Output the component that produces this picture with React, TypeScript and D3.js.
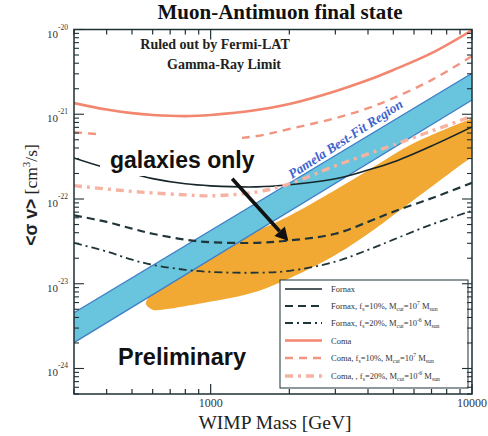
import React from 'react';
import * as d3 from 'd3';

// ---------- data ----------
const masses = [300, 400, 500, 600, 800, 1000, 1500, 2000, 3000, 4000, 5000, 7000, 10000];
const fornax = [3.05e-22, 2.32e-22, 2.0e-22, 1.74e-22, 1.51e-22, 1.43e-22, 1.39e-22, 1.47e-22, 1.73e-22, 2.2e-22, 2.73e-22, 4.23e-22, 7.1e-22];
const fornax10 = [6.41e-23, 5.37e-23, 4.47e-23, 3.89e-23, 3.31e-23, 3.09e-23, 3.04e-23, 3.24e-23, 3.89e-23, 5.37e-23, 7.08e-23, 1.02e-22, 1.55e-22];
const fornax20 = [3.04e-23, 2.4e-23, 1.92e-23, 1.67e-23, 1.46e-23, 1.38e-23, 1.35e-23, 1.42e-23, 1.82e-23, 2.51e-23, 3.31e-23, 5.0e-23, 7.24e-23];
const coma = [1.355e-21, 1.135e-21, 1.03e-21, 9.8e-22, 9.5e-22, 9.8e-22, 1.12e-21, 1.32e-21, 1.87e-21, 2.53e-21, 3.33e-21, 5.26e-21, 9.8e-21];
const coma10 = [6.15e-22, 5.7e-22, 5.4e-22, 5.2e-22, 4.97e-22, 4.97e-22, 5.53e-22, 6.7e-22, 9.0e-22, 1.18e-21, 1.55e-21, 2.53e-21, 4.85e-21];
const coma20 = [1.44e-22, 1.31e-22, 1.23e-22, 1.18e-22, 1.12e-22, 1.09e-22, 1.21e-22, 1.51e-22, 2.46e-22, 3.4e-22, 4.34e-22, 6.34e-22, 9.5e-22];

const pamelaMass = [300, 10000];
const pamelaUpper = [4.56e-24, 3.05e-21];
const pamelaLower = [2.02e-24, 1.47e-21];

const galaxyTipMass = 565;
const galaxyTipVal = 5.8e-24;
const galaxyUpperMass = [600, 650, 900, 1400, 1900, 3000, 4200, 6000, 10000, 12000];
const galaxyUpperVal = [7.83e-24, 9.2e-24, 1.67e-23, 3.77e-23, 5.83e-23, 1.28e-22, 2.39e-22, 4.58e-22, 9.0e-22, 1.15e-21];
const galaxyLowerMass = [600, 650, 900, 1400, 1900, 3000, 4200, 6000, 10000, 12000];
const galaxyLowerVal = [4.94e-24, 4.94e-24, 5.8e-24, 7.6e-24, 1.08e-23, 2.19e-23, 4.32e-23, 9.77e-23, 3.13e-22, 4.5e-22];

const xTickLabels = ['1000', '10000'];
const xTickValues = [1000, 10000];
const yTickValues = [1e-24, 1e-23, 1e-22, 1e-21, 1e-20];
const yTickExps = ['-24', '-23', '-22', '-21', '-20'];

const legendLabels = [
  'Fornax',
  'Fornax, f_{s}=10%, M_{cut}=10^{7} M_{sun}',
  'Fornax, f_{s}=20%, M_{cut}=10^{-6} M_{sun}',
  'Coma',
  'Coma, f_{s}=10%, M_{cut}=10^{7} M_{sun}',
  'Coma, , f_{s}=20%, M_{cut}=10^{-6} M_{sun}',
];

const arrowFrom = [1209, 1.73e-22];
const arrowTo = [1983, 3.2e-23];

// ---------- layout ----------
const W = 488, H = 436;
const L = 74, R = 472, T = 29.5, B = 394;

const seriesStyles = [
  { data: fornax, stroke: '#15252a', width: 1.6, dash: '' },
  { data: fornax10, stroke: '#203539', width: 2.2, dash: '8,5' },
  { data: fornax20, stroke: '#203539', width: 1.8, dash: '8,4,2,4' },
  { data: coma, stroke: '#f3866f', width: 2.6, dash: '' },
  { data: coma10, stroke: '#f29580', width: 2.4, dash: '8,6' },
  { data: coma20, stroke: '#f6b2a2', width: 3.4, dash: '8,5,3,5' },
];

function RichText({ s, x, y, size }: { s: string; x: number; y: number; size: number }) {
  const parts = s.split(/(_\{[^}]*\}|\^\{[^}]*\})/).filter((p) => p.length);
  let off = 0;
  const small = size * 0.68;
  const spans = parts.map((p, i) => {
    let fs = size;
    let txt = p;
    let target = 0;
    if (p.startsWith('_{')) {
      target = 2;
      fs = small;
      txt = p.slice(2, -1);
    } else if (p.startsWith('^{')) {
      target = -4;
      fs = small;
      txt = p.slice(2, -1);
    }
    const dy = target - off;
    off = target;
    return (
      <tspan key={i} dy={dy} fontSize={fs}>
        {txt}
      </tspan>
    );
  });
  return (
    <text x={x} y={y} fontFamily="Liberation Serif, Times New Roman, serif" fontSize={size} fill="#333">
      {spans}
    </text>
  );
}

export default function App() {
  const x = d3.scaleLog().domain([300, 10000]).range([L, R]);
  const y = d3.scaleLog().domain([5e-25, 1e-20]).range([B, T]);

  const line = d3
    .line<[number, number]>()
    .x((d) => x(d[0]))
    .y((d) => y(d[1]))
    .curve(d3.curveCatmullRom.alpha(0.5));

  const bandArea = d3
    .area<number>()
    .x((_, i) => x(pamelaMass[i]))
    .y0((_, i) => y(pamelaLower[i]))
    .y1((_, i) => y(pamelaUpper[i]));

  const galaxyPts: [number, number][] = [
    [x(galaxyTipMass), y(galaxyTipVal)],
    ...galaxyUpperMass.map((m, i) => [x(m), y(galaxyUpperVal[i])] as [number, number]),
    ...galaxyLowerMass
      .map((m, i) => [x(m), y(galaxyLowerVal[i])] as [number, number])
      .reverse(),
  ];
  const galaxyPath = d3.line().curve(d3.curveCatmullRomClosed.alpha(0.5))(galaxyPts) || '';

  const xt = x.ticks();
  const yt = y.ticks();
  const axisColor = '#1e3036';

  const ax0 = x(arrowFrom[0]), ay0 = y(arrowFrom[1]);
  const ax1 = x(arrowTo[0]), ay1 = y(arrowTo[1]);
  const dx = ax1 - ax0, dyv = ay1 - ay0;
  const len = Math.hypot(dx, dyv);
  const ux = dx / len, uy = dyv / len;
  const headL = 13, headW = 7;
  const bx = ax1 - ux * headL, by = ay1 - uy * headL;
  const headPts = `${ax1},${ay1} ${bx - uy * headW},${by + ux * headW} ${bx + uy * headW},${by - ux * headW}`;

  const legX = 280, legY = 280, legW = 188, legH = 108;
  const rowY = [289, 306, 323, 340.5, 358, 376];

  return (
    <svg width={W} height={H} style={{ position: 'absolute', left: 0, top: 0, background: '#fff' }}>
      <defs>
        <clipPath id="plot">
          <rect x={L} y={T} width={R - L} height={B - T} />
        </clipPath>
      </defs>
      <rect x={0} y={0} width={W} height={H} fill="#fff" />

      <g clipPath="url(#plot)">
        <path d={galaxyPath} fill="#f1a933" stroke="none" />
        <path d={bandArea(pamelaMass as any) || ''} fill="#68c5dd" stroke="none" />
        <path d={line(pamelaMass.map((m, i) => [m, pamelaUpper[i]] as [number, number])) || ''} fill="none" stroke="#3f7ec6" strokeWidth={1.3} />
        <path d={line(pamelaMass.map((m, i) => [m, pamelaLower[i]] as [number, number])) || ''} fill="none" stroke="#3f7ec6" strokeWidth={1.3} />
        {seriesStyles.map((s, k) => (
          <path
            key={k}
            d={line(masses.map((m, i) => [m, s.data[i]] as [number, number])) || ''}
            fill="none"
            stroke={s.stroke}
            strokeWidth={s.width}
            strokeDasharray={s.dash || undefined}
          />
        ))}
      </g>

      {/* white box behind annotation */}
      <rect x={100} y={128} width={142} height={48} fill="#fff" />
      <text x={110} y={168} fontFamily="Liberation Sans, Arial, sans-serif" fontWeight="bold" fontSize={23} fill="#111">
        galaxies only
      </text>
      <line x1={ax0} y1={ay0} x2={bx} y2={by} stroke="#111" strokeWidth={3.6} />
      <polygon points={headPts} fill="#111" />

      <text x={118} y={365} fontFamily="Liberation Sans, Arial, sans-serif" fontWeight="bold" fontSize={23.5} fill="#111">
        Preliminary
      </text>

      <text
        transform="translate(292,179) rotate(-33)"
        fontFamily="Liberation Serif, Times New Roman, serif"
        fontWeight="bold"
        fontStyle="italic"
        fontSize={13.5}
        fill="#3a64cf"
      >
        Pamela Best-Fit Region
      </text>

      <text x={215} y={49} textAnchor="middle" fontFamily="Liberation Serif, Times New Roman, serif" fontWeight="bold" fontSize={14} fill="#222">
        Ruled out by Fermi-LAT
      </text>
      <text x={224} y={69} textAnchor="middle" fontFamily="Liberation Serif, Times New Roman, serif" fontWeight="bold" fontSize={14} fill="#222">
        Gamma-Ray Limit
      </text>

      {/* legend */}
      <rect x={legX} y={legY} width={legW} height={legH} fill="#fff" stroke={axisColor} strokeWidth={1} />
      {legendLabels.map((lab, i) => (
        <g key={i}>
          <line
            x1={285}
            x2={322}
            y1={rowY[i]}
            y2={rowY[i]}
            stroke={seriesStyles[i].stroke}
            strokeWidth={seriesStyles[i].width}
            strokeDasharray={seriesStyles[i].dash || undefined}
          />
          <RichText s={lab} x={331} y={rowY[i] + 3} size={8.5} />
        </g>
      ))}

      {/* frame + ticks */}
      <rect x={L} y={T} width={R - L} height={B - T} fill="none" stroke={axisColor} strokeWidth={1.5} />
      {xt.map((v, i) => {
        const major = Math.abs(Math.log10(v) - Math.round(Math.log10(v))) < 1e-9;
        const l = major ? 10 : 5;
        return (
          <g key={'x' + i} stroke={axisColor} strokeWidth={1.2}>
            <line x1={x(v)} x2={x(v)} y1={B} y2={B - l} />
            <line x1={x(v)} x2={x(v)} y1={T} y2={T + l} />
          </g>
        );
      })}
      {yt.map((v, i) => {
        const major = Math.abs(Math.log10(v) - Math.round(Math.log10(v))) < 1e-9;
        const l = major ? 10 : 5;
        return (
          <g key={'y' + i} stroke={axisColor} strokeWidth={1.1}>
            <line x1={L} x2={L + l} y1={y(v)} y2={y(v)} />
            <line x1={R} x2={R - l} y1={y(v)} y2={y(v)} />
          </g>
        );
      })}

      {xTickValues.map((v, i) => (
        <text key={'xl' + i} x={x(v)} y={407} textAnchor="middle" fontFamily="Liberation Serif, Times New Roman, serif" fontSize={12} fill="#333">
          {xTickLabels[i]}
        </text>
      ))}
      {yTickValues.map((v, i) => (
        <text key={'yl' + i} x={68} y={y(v) + 8} textAnchor="end" fontFamily="Liberation Serif, Times New Roman, serif" fontSize={11} fill="#333">
          10
          <tspan dy={-8} fontSize={7.5}>
            {yTickExps[i]}
          </tspan>
        </text>
      ))}

      <text x={280} y={19} textAnchor="middle" fontFamily="Liberation Serif, Times New Roman, serif" fontWeight="bold" fontSize={21} fill="#111">
        Muon-Antimuon final state
      </text>
      <text x={275} y={429} textAnchor="middle" fontFamily="Liberation Serif, Times New Roman, serif" fontSize={19.5} fill="#222">
        WIMP Mass [GeV]
      </text>
      <text transform="translate(37,195) rotate(-90)" textAnchor="middle" fontSize={17.5} fill="#222">
        <tspan fontFamily="Liberation Sans, Arial, sans-serif" fontWeight="bold">&lt;σ v&gt;</tspan>
        <tspan fontFamily="Liberation Serif, Times New Roman, serif"> [cm</tspan>
        <tspan fontFamily="Liberation Serif, Times New Roman, serif" dy={-7} fontSize={11}>3</tspan>
        <tspan fontFamily="Liberation Serif, Times New Roman, serif" dy={7}>/s]</tspan>
      </text>
    </svg>
  );
}
